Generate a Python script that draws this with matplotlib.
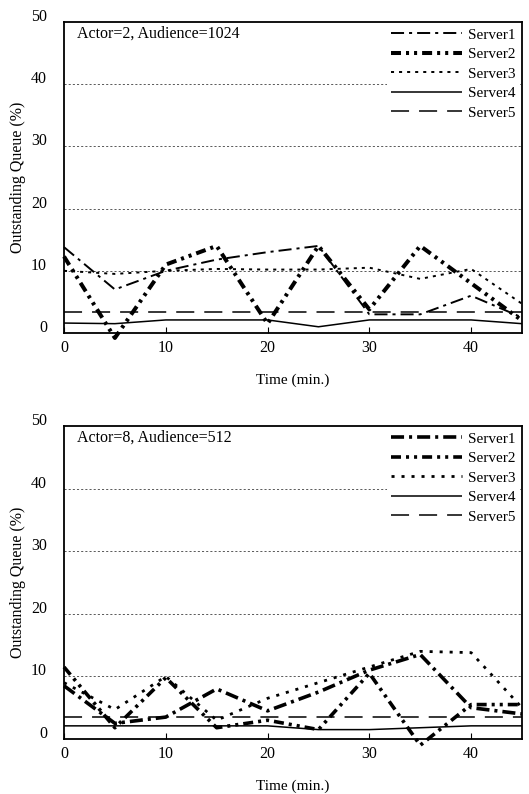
import numpy as np
import matplotlib
matplotlib.use("Agg")
import matplotlib.pyplot as plt
from matplotlib.transforms import blended_transform_factory, ScaledTranslation

plt.rcParams['font.family'] = ['Liberation Serif', 'DejaVu Serif']
plt.rcParams['lines.scale_dashes'] = False

time = [0, 5, 10, 15, 20, 25, 30, 35, 40, 45]
names = ["Server1", "Server2", "Server3", "Server4", "Server5"]

# Actor=2, Audience=1024
top_s1 = [13.8, 7.0, 10.0, 11.8, 13.0, 14.0, 3.0, 3.0, 6.0, 2.5]
top_s2 = [12.3, -0.8, 11.0, 14.0, 1.5, 14.0, 3.8, 14.0, 8.0, 2.0]
top_s3 = [10.0, 9.5, 10.0, 10.3, 10.2, 10.2, 10.5, 8.7, 10.3, 4.7]
top_s4 = [1.6, 1.5, 2.1, 2.1, 2.1, 1.0, 2.1, 2.1, 2.1, 1.5]
top_s5 = [3.4, 3.4, 3.4, 3.4, 3.4, 3.4, 3.4, 3.4, 3.4, 3.4]

# Actor=8, Audience=512
bot_s1 = [8.5, 2.5, 3.5, 8.0, 4.5, 7.5, 11.0, 13.5, 5.0, 4.0]
bot_s2 = [11.5, 1.8, 9.8, 1.8, 3.0, 1.5, 10.5, -1.0, 5.5, 5.5]
bot_s3 = [9.0, 4.7, 10.0, 3.0, 6.5, 9.0, 11.5, 14.0, 13.8, 5.0]
bot_s4 = [2.1, 2.1, 2.1, 2.1, 2.1, 1.5, 1.5, 1.8, 2.1, 2.1]
bot_s5 = [3.5, 3.5, 3.5, 3.5, 3.5, 3.5, 3.5, 3.5, 3.5, 3.5]

yticks = [0, 10, 20, 30, 40, 50]
xticks = [0, 10, 20, 30, 40]

top_styles = [
    dict(lw=1.4, dashes=(9.4, 3.6, 2.2, 3.6)),
    dict(lw=2.9, dashes=(7.2, 3.6, 2.2, 3.6, 2.2, 3.6)),
    dict(lw=1.4, dashes=(2.2, 3.6)),
    dict(lw=1.1, linestyle='-'),
    dict(lw=1.1, dashes=(13, 7.2)),
]
bot_styles = [
    dict(lw=2.6, dashes=(9.4, 3.6, 2.2, 3.6)),
    dict(lw=2.6, dashes=(7.2, 3.6, 2.2, 3.6, 2.2, 3.6)),
    dict(lw=2.0, dashes=(2.2, 5.0)),
    dict(lw=1.1, linestyle='-'),
    dict(lw=1.1, dashes=(13, 7.2)),
]

fig = plt.figure(figsize=(5.29, 7.94), dpi=100)
W, H = 529, 794


def panel(rect, series, styles, label):
    l, t, r, b = rect
    ax = fig.add_axes([l / W, 1 - b / H, (r - l) / W, (b - t) / H])
    for vals, name, st in zip(series, names, styles):
        ax.plot(time, vals, color='black', label=name, clip_on=False,
                solid_capstyle='butt', dash_capstyle='butt', **st)
    ax.set_xlim(0, 45)
    ax.set_ylim(0, 50)
    for v in yticks[1:-1]:
        ax.axhline(v, color='0.35', lw=0.7, dashes=(1.5, 1.5), zorder=0)
    for s in ax.spines.values():
        s.set_linewidth(1.3)
    ax.set_xticks(xticks)
    ax.set_xticklabels([])
    ax.set_yticks([])
    ax.tick_params(axis='x', direction='in', length=4, width=0.8)
    # tick labels, drawn slightly above their values like the scan
    trans_y = blended_transform_factory(ax.transAxes, ax.transData)
    for v in yticks:
        ax.text(-0.037, v, str(v), transform=trans_y + ScaledTranslation(0, 5 / 100, fig.dpi_scale_trans),
                ha='right', va='center', fontsize=11.5, clip_on=False)
    trans_x = blended_transform_factory(ax.transData, ax.transAxes)
    for v in xticks:
        ax.text(v, 0, str(v), transform=trans_x + ScaledTranslation(0, -15 / 100, fig.dpi_scale_trans),
                ha='center', va='center', fontsize=11.5, clip_on=False)
    ax.text(0.5, 0, "Time (min.)", transform=ax.transAxes + ScaledTranslation(0, -47 / 100, fig.dpi_scale_trans),
            ha='center', va='center', fontsize=11)
    ax.text(0, 0.5, "Outstanding Queue (%)", rotation=90,
            transform=ax.transAxes + ScaledTranslation(-46 / 100, 0, fig.dpi_scale_trans),
            ha='center', va='center', fontsize=11.5)
    ax.text(0.028, 0.962, label, transform=ax.transAxes, ha='left', va='center', fontsize=11.5)
    leg = ax.legend(loc='upper right', bbox_to_anchor=(0.995, 0.995), fontsize=11,
                    handlelength=4.6, handletextpad=0.4, labelspacing=0.38,
                    borderpad=0.3, borderaxespad=0, fancybox=False, framealpha=1)
    leg.get_frame().set_edgecolor('none')
    leg.set_zorder(5)
    return ax


panel((64, 22, 522, 333), [top_s1, top_s2, top_s3, top_s4, top_s5], top_styles,
      "Actor=2, Audience=1024")
panel((64, 426, 522, 739), [bot_s1, bot_s2, bot_s3, bot_s4, bot_s5], bot_styles,
      "Actor=8, Audience=512")

fig.savefig("out.png", dpi=100)
